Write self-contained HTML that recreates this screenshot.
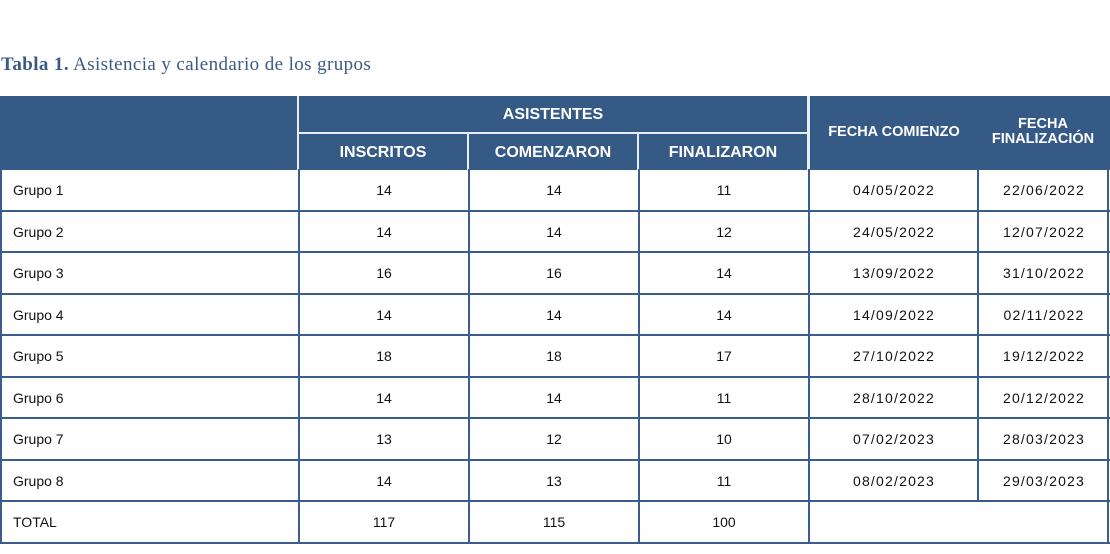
<!DOCTYPE html>
<html><head><style>
body{margin:0;width:1110px;height:554px;background:#fff;position:relative;overflow:hidden;font-family:"Liberation Sans",Arial,sans-serif}
.a{position:absolute}
.h{position:absolute;background:#365a86}
.t{position:absolute;color:#fff;font-weight:bold;font-size:16px;text-align:center}
.c{position:absolute;font-size:14px;color:#111;text-align:center;height:41px;line-height:41px}
.v{position:absolute;background:#3a5e8b;width:2px}
.hl{position:absolute;background:#3a5e8b;height:2px}
.w{position:absolute;background:#e8eef5}
</style></head><body>
<div class="a" style="left:1px;top:54px;font-family:'Liberation Serif',serif;font-size:19px;letter-spacing:0.4px;color:#3b5a85"><b>Tabla 1.</b> Asistencia y calendario de los grupos</div>
<div class="h" style="left:0;top:96px;width:1110px;height:74px"></div>
<div class="w" style="left:297px;top:96px;width:2px;height:74px"></div>
<div class="w" style="left:807px;top:96px;width:3px;height:74px"></div>
<div class="w" style="left:299px;top:132px;width:508px;height:2px"></div>
<div class="w" style="left:467px;top:134px;width:2px;height:36px"></div>
<div class="w" style="left:637px;top:134px;width:2px;height:36px"></div>
<div class="t" style="left:299px;top:106px;width:508px">ASISTENTES</div>
<div class="t" style="left:299px;top:144px;width:168px">INSCRITOS</div>
<div class="t" style="left:469px;top:144px;width:168px">COMENZARON</div>
<div class="t" style="left:639px;top:144px;width:168px">FINALIZARON</div>
<div class="t" style="left:810px;top:124px;width:168px;font-size:14.5px">FECHA COMIENZO</div>
<div class="t" style="left:978px;top:117px;width:130px;font-size:14.5px;line-height:15px">FECHA<br>FINALIZACIÓN</div>
<div id="body"></div>
<script>
var rows=[["Grupo 1",14,14,11,"04/05/2022","22/06/2022"],["Grupo 2",14,14,12,"24/05/2022","12/07/2022"],["Grupo 3",16,16,14,"13/09/2022","31/10/2022"],["Grupo 4",14,14,14,"14/09/2022","02/11/2022"],["Grupo 5",18,18,17,"27/10/2022","19/12/2022"],["Grupo 6",14,14,11,"28/10/2022","20/12/2022"],["Grupo 7",13,12,10,"07/02/2023","28/03/2023"],["Grupo 8",14,13,11,"08/02/2023","29/03/2023"],["TOTAL",117,115,100,"",""]];
var xs=[0,298,468,638,808,978,1108],h="";
var y0=169,rh=41.5;
for(var i=0;i<rows.length;i++){var y=y0+i*rh;
 for(var j=0;j<6;j++){var l=xs[j]+2,w=xs[j+1]-xs[j]-2;
  var ls=(j>=4)?'letter-spacing:1.2px;':'';
  h+='<div class="c" style="'+ls+'left:'+(j==0?13:l)+'px;top:'+(y+1)+'px;width:'+w+'px;text-align:'+(j==0?'left':'center')+'">'+rows[i][j]+'</div>';}
 h+='<div class="hl" style="left:0;top:'+(y+rh-1)+'px;width:1110px"></div>';}
var yb=y0+9*rh;
[0,298,468,638,808,1108].forEach(function(x){h+='<div class="v" style="left:'+(x==1108?1107:x)+'px;top:'+y0+'px;height:'+(yb-y0)+'px"></div>';});
h+='<div class="v" style="left:977px;top:'+y0+'px;height:'+(8*rh)+'px"></div>';
document.getElementById('body').innerHTML=h;
</script>
</body></html>
